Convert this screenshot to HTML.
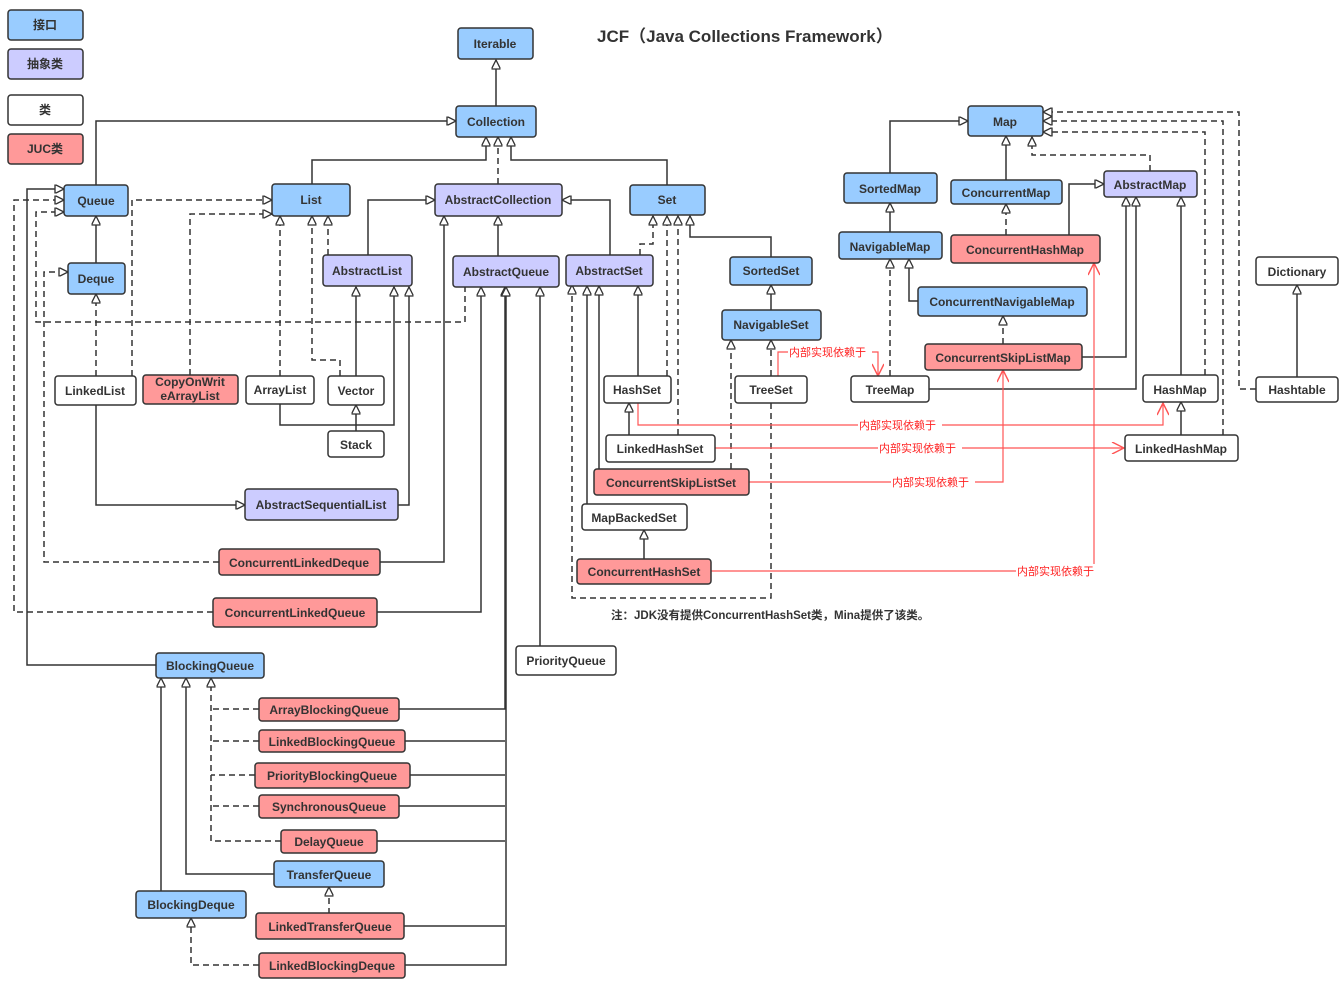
<!DOCTYPE html>
<html><head><meta charset="utf-8"><style>
html,body{margin:0;padding:0;background:#fff;}
svg{display:block;}
text{font-family:"Liberation Sans","Noto Sans CJK SC",sans-serif;font-weight:bold;font-size:12px;fill:#333;}
.l{fill:none;stroke:#333;stroke-width:1.5;}
.d{fill:none;stroke:#333;stroke-width:1.5;stroke-dasharray:6 4;}
.r{fill:none;stroke:#ff5555;stroke-width:1.2;}
.b{stroke:#333;stroke-width:1.5;}
.rl{fill:#ff2222;font-size:11px;font-weight:normal;}
</style></head><body>
<svg width="1344" height="982" viewBox="0 0 1344 982" xmlns="http://www.w3.org/2000/svg">
<defs>
<marker id="t" viewBox="0 0 10 10" refX="10" refY="5" markerWidth="12" markerHeight="9" markerUnits="userSpaceOnUse" orient="auto"><path d="M0,0 L10,5 L0,10 z" fill="#fff" stroke="#333" stroke-width="1.5"/></marker>
<marker id="o" viewBox="0 0 10 10" refX="10" refY="5" markerWidth="14" markerHeight="12" markerUnits="userSpaceOnUse" orient="auto"><path d="M0,0 L10,5 L0,10" fill="none" stroke="#ff5555" stroke-width="1.2"/></marker>
</defs>

<text x="597" y="42" style="font-size:17px">JCF（Java Collections Framework）</text>
<text x="611" y="619" style="font-size:11.5px">注：JDK没有提供ConcurrentHashSet类，Mina提供了该类。</text>

<!-- solid lines -->
<g class="l" marker-end="url(#t)">
<path d="M496,106 V60"/>
<path d="M96,185 V121 H456"/>
<path d="M312,184 V160 H486 V137"/>
<path d="M667,185 V160 H511 V137"/>
<path d="M96,263 V216"/>
<path d="M368,255 V200 H435"/>
<path d="M498,256 V216"/>
<path d="M610,255 V200 H562"/>
<path d="M771,257 V237 H690 V216"/>
<path d="M771,310 V285"/>
<path d="M638,376 V286"/>
<path d="M629,435 V403"/>
<path d="M599,469 V286"/>
<path d="M587,504 V286"/>
<path d="M644,559 V530"/>
<path d="M96,405 V505 H245"/>
<path d="M280,404 V425 H394 V287"/>
<path d="M356,376 V287"/>
<path d="M356,431 V405"/>
<path d="M398,505 H409 V287"/>
<path d="M380,562 H444 V216"/>
<path d="M377,612 H481 V287"/>
<path d="M540,646 V287"/>
<path d="M156,665 H27 V189 H64"/>
<path d="M399,709 H505 V287"/>
<path d="M405,965 H506 V287"/>
<path d="M274,874 H186 V678"/>
<path d="M161,891 V678"/>
<path d="M890,173 V121 H968"/>
<path d="M1006,180 V136"/>
<path d="M890,232 V203"/>
<path d="M1069,235 V184 H1104"/>
<path d="M918,301 H909 V259"/>
<path d="M1082,357 H1126 V197"/>
<path d="M929,389 H1136 V197"/>
<path d="M1181,375 V197"/>
<path d="M1181,435 V402"/>
<path d="M1297,377 V285"/>
</g>
<g class="l">
<path d="M405,741 H505"/>
<path d="M410,775 H505"/>
<path d="M399,806 H505"/>
<path d="M377,841 H505"/>
<path d="M404,926 H505"/>
</g>
<!-- dashed lines -->
<g class="d" marker-end="url(#t)">
<path d="M498,184 V137"/>
<path d="M328,255 V216"/>
<path d="M465,256 V322 H36 V212 H64"/>
<path d="M213,612 H14 V200 H64"/>
<path d="M219,562 H44 V272 H68"/>
<path d="M640,255 V244 H653 V216"/>
<path d="M667,376 V216"/>
<path d="M678,435 V216"/>
<path d="M771,376 V340"/>
<path d="M731,469 V340"/>
<path d="M771,403 V598 H572 V285"/>
<path d="M96,376 V294"/>
<path d="M132,376 V200 H272"/>
<path d="M190,375 V214 H272"/>
<path d="M280,376 V216"/>
<path d="M340,376 V360 H312 V216"/>
<path d="M281,841 H211 V678"/>
<path d="M329,914 V887"/>
<path d="M259,965 H191 V918"/>
<path d="M1150,171 V155 H1032 V137"/>
<path d="M1205,375 V132 H1043"/>
<path d="M1223,435 V121 H1043"/>
<path d="M1256,389 H1239 V112 H1043"/>
<path d="M1006,235 V204"/>
<path d="M1003,344 V316"/>
<path d="M890,376 V259"/>
</g>
<g class="d">
<path d="M259,709 H211"/>
<path d="M259,741 H211"/>
<path d="M255,775 H211"/>
<path d="M259,806 H211"/>
</g>
<!-- red -->
<g class="r" marker-end="url(#o)">
<path d="M778,376 V352 H878 V376"/>
<path d="M638,403 V425 H1163 V403"/>
<path d="M715,448 H1124"/>
<path d="M749,482 H1003 V370"/>
<path d="M711,571 H1094 V263"/>
</g>
<g>
<rect x="788" y="345" width="84" height="14" fill="#fff"/><text class="rl" x="789" y="356">内部实现依赖于</text>
<rect x="858" y="418" width="84" height="14" fill="#fff"/><text class="rl" x="859" y="429">内部实现依赖于</text>
<rect x="878" y="441" width="84" height="14" fill="#fff"/><text class="rl" x="879" y="452">内部实现依赖于</text>
<rect x="891" y="475" width="84" height="14" fill="#fff"/><text class="rl" x="892" y="486">内部实现依赖于</text>
<rect x="1016" y="564" width="84" height="14" fill="#fff"/><text class="rl" x="1017" y="575">内部实现依赖于</text>
</g>

<!-- boxes -->
<g class="b">
<rect x="8" y="10" width="75" height="30" rx="3" fill="#99ccff"/>
<rect x="8" y="49" width="75" height="30" rx="3" fill="#ccccff"/>
<rect x="8" y="95" width="75" height="30" rx="3" fill="#fff"/>
<rect x="8" y="134" width="75" height="30" rx="3" fill="#ff9999"/>
<rect x="458" y="28" width="75" height="31" rx="3" fill="#99ccff"/>
<rect x="456" y="106" width="80" height="31" rx="3" fill="#99ccff"/>
<rect x="64" y="185" width="64" height="31" rx="3" fill="#99ccff"/>
<rect x="272" y="184" width="78" height="32" rx="3" fill="#99ccff"/>
<rect x="435" y="184" width="127" height="32" rx="3" fill="#ccccff"/>
<rect x="630" y="185" width="75" height="30" rx="3" fill="#99ccff"/>
<rect x="68" y="263" width="57" height="31" rx="3" fill="#99ccff"/>
<rect x="323" y="255" width="89" height="31" rx="3" fill="#ccccff"/>
<rect x="453" y="256" width="106" height="31" rx="3" fill="#ccccff"/>
<rect x="566" y="255" width="87" height="31" rx="3" fill="#ccccff"/>
<rect x="730" y="257" width="82" height="28" rx="3" fill="#99ccff"/>
<rect x="722" y="310" width="99" height="30" rx="3" fill="#99ccff"/>
<rect x="55" y="376" width="81" height="29" rx="3" fill="#fff"/>
<rect x="143" y="375" width="95" height="29" rx="3" fill="#ff9999"/>
<rect x="246" y="376" width="68" height="28" rx="3" fill="#fff"/>
<rect x="328" y="376" width="56" height="29" rx="3" fill="#fff"/>
<rect x="328" y="431" width="56" height="26" rx="3" fill="#fff"/>
<rect x="604" y="376" width="67" height="27" rx="3" fill="#fff"/>
<rect x="735" y="376" width="72" height="27" rx="3" fill="#fff"/>
<rect x="606" y="435" width="109" height="27" rx="3" fill="#fff"/>
<rect x="594" y="469" width="155" height="26" rx="3" fill="#ff9999"/>
<rect x="582" y="504" width="105" height="26" rx="3" fill="#fff"/>
<rect x="577" y="559" width="134" height="25" rx="3" fill="#ff9999"/>
<rect x="245" y="489" width="153" height="31" rx="3" fill="#ccccff"/>
<rect x="219" y="549" width="161" height="26" rx="3" fill="#ff9999"/>
<rect x="213" y="598" width="164" height="29" rx="3" fill="#ff9999"/>
<rect x="516" y="646" width="100" height="29" rx="3" fill="#fff"/>
<rect x="156" y="653" width="108" height="25" rx="3" fill="#99ccff"/>
<rect x="259" y="698" width="140" height="23" rx="3" fill="#ff9999"/>
<rect x="259" y="730" width="146" height="22" rx="3" fill="#ff9999"/>
<rect x="255" y="763" width="155" height="25" rx="3" fill="#ff9999"/>
<rect x="259" y="795" width="140" height="23" rx="3" fill="#ff9999"/>
<rect x="281" y="830" width="96" height="23" rx="3" fill="#ff9999"/>
<rect x="274" y="861" width="110" height="26" rx="3" fill="#99ccff"/>
<rect x="136" y="891" width="110" height="27" rx="3" fill="#99ccff"/>
<rect x="256" y="913" width="148" height="26" rx="3" fill="#ff9999"/>
<rect x="259" y="953" width="146" height="25" rx="3" fill="#ff9999"/>
<rect x="968" y="106" width="75" height="30" rx="3" fill="#99ccff"/>
<rect x="844" y="173" width="93" height="30" rx="3" fill="#99ccff"/>
<rect x="951" y="180" width="111" height="24" rx="3" fill="#99ccff"/>
<rect x="1104" y="171" width="93" height="26" rx="3" fill="#ccccff"/>
<rect x="839" y="232" width="103" height="27" rx="3" fill="#99ccff"/>
<rect x="951" y="235" width="149" height="28" rx="3" fill="#ff9999"/>
<rect x="918" y="287" width="169" height="29" rx="3" fill="#99ccff"/>
<rect x="925" y="344" width="157" height="26" rx="3" fill="#ff9999"/>
<rect x="851" y="376" width="78" height="26" rx="3" fill="#fff"/>
<rect x="1143" y="375" width="75" height="27" rx="3" fill="#fff"/>
<rect x="1125" y="435" width="113" height="26" rx="3" fill="#fff"/>
<rect x="1256" y="257" width="82" height="28" rx="3" fill="#fff"/>
<rect x="1256" y="377" width="82" height="25" rx="3" fill="#fff"/>
</g>
<g text-anchor="middle">
<text x="45" y="29">接口</text>
<text x="45" y="68">抽象类</text>
<text x="45" y="114">类</text>
<text x="45" y="153">JUC类</text>
<text x="495" y="48">Iterable</text>
<text x="496" y="126">Collection</text>
<text x="96" y="205">Queue</text>
<text x="311" y="204">List</text>
<text x="498" y="204">AbstractCollection</text>
<text x="667" y="204">Set</text>
<text x="96" y="283">Deque</text>
<text x="367" y="275">AbstractList</text>
<text x="506" y="276">AbstractQueue</text>
<text x="609" y="275">AbstractSet</text>
<text x="771" y="275">SortedSet</text>
<text x="771" y="329">NavigableSet</text>
<text x="95" y="395">LinkedList</text>
<text x="190" y="386">CopyOnWrit</text>
<text x="190" y="400">eArrayList</text>
<text x="280" y="394">ArrayList</text>
<text x="356" y="395">Vector</text>
<text x="356" y="449">Stack</text>
<text x="637" y="394">HashSet</text>
<text x="771" y="394">TreeSet</text>
<text x="660" y="453">LinkedHashSet</text>
<text x="671" y="487">ConcurrentSkipListSet</text>
<text x="634" y="522">MapBackedSet</text>
<text x="644" y="576">ConcurrentHashSet</text>
<text x="321" y="509">AbstractSequentialList</text>
<text x="299" y="567">ConcurrentLinkedDeque</text>
<text x="295" y="617">ConcurrentLinkedQueue</text>
<text x="566" y="665">PriorityQueue</text>
<text x="210" y="670">BlockingQueue</text>
<text x="329" y="714">ArrayBlockingQueue</text>
<text x="332" y="746">LinkedBlockingQueue</text>
<text x="332" y="780">PriorityBlockingQueue</text>
<text x="329" y="811">SynchronousQueue</text>
<text x="329" y="846">DelayQueue</text>
<text x="329" y="879">TransferQueue</text>
<text x="191" y="909">BlockingDeque</text>
<text x="330" y="931">LinkedTransferQueue</text>
<text x="332" y="970">LinkedBlockingDeque</text>
<text x="1005" y="126">Map</text>
<text x="890" y="193">SortedMap</text>
<text x="1006" y="197">ConcurrentMap</text>
<text x="1150" y="189">AbstractMap</text>
<text x="890" y="251">NavigableMap</text>
<text x="1025" y="254">ConcurrentHashMap</text>
<text x="1002" y="306">ConcurrentNavigableMap</text>
<text x="1003" y="362">ConcurrentSkipListMap</text>
<text x="890" y="394">TreeMap</text>
<text x="1180" y="394">HashMap</text>
<text x="1181" y="453">LinkedHashMap</text>
<text x="1297" y="276">Dictionary</text>
<text x="1297" y="394">Hashtable</text>
</g>
</svg>
</body></html>
